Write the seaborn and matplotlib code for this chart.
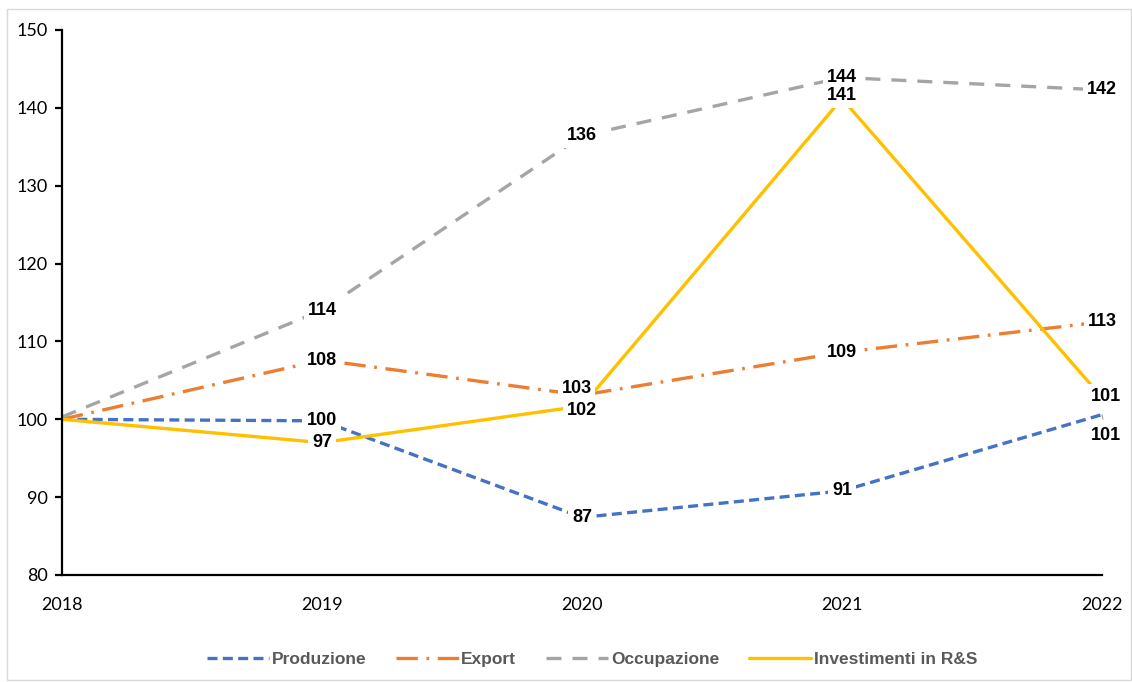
import matplotlib
matplotlib.use("Agg")
import matplotlib.pyplot as plt
import matplotlib.patches as mpatches
import seaborn as sns
import pandas as pd

years = [2018, 2019, 2020, 2021, 2022]
produzione = [100.0, 99.8, 87.4, 90.8, 100.6]
export = [100.0, 107.6, 103.1, 108.6, 112.5]
occupazione = [100.3, 114.0, 136.4, 143.9, 142.3]
investimenti = [100.0, 97.0, 101.7, 141.2, 102.8]

series_names = ["Produzione", "Export", "Occupazione", "Investimenti in R&S"]
label_texts = {
    "Produzione": [None, "100", "87", "91", "101"],
    "Export": [None, "108", "103", "109", "113"],
    "Occupazione": [None, "114", "136", "144", "142"],
    "Investimenti in R&S": [None, "97", "102", "141", "101"],
}
y_ticks = [80, 90, 100, 110, 120, 130, 140, 150]

colors = {"Produzione": "#4472C4", "Export": "#ED7D31",
          "Occupazione": "#A5A5A5", "Investimenti in R&S": "#FFC000"}
dashes = {"Produzione": (3.0, 1.6), "Export": (6.4, 2.6, 0.8, 2.6),
          "Occupazione": (4.5, 3.3), "Investimenti in R&S": ""}

df = pd.DataFrame({
    "Anno": years * 4,
    "Valore": produzione + export + occupazione + investimenti,
    "Serie": sum([[n] * len(years) for n in series_names], []),
})

sns.set_theme(style="white")
plt.rcParams["font.family"] = ["Lato", "DejaVu Sans"]

fig = plt.figure(figsize=(11.32, 6.82), dpi=100)
ax = fig.add_axes([62 / 1132, 1 - 575 / 682, (1102 - 62) / 1132, (575 - 30) / 682])

sns.lineplot(data=df, x="Anno", y="Valore", hue="Serie", style="Serie",
             hue_order=series_names, style_order=series_names,
             palette=colors, dashes=dashes, linewidth=2.4, ax=ax,
             legend=True)

ax.set_xlim(2018, 2022)
ax.set_ylim(80, 150)
ax.set_xticks(years)
ax.set_xticklabels([str(y) for y in years])
ax.set_yticks(y_ticks)
ax.set_xlabel("")
ax.set_ylabel("")
for s in ["top", "right"]:
    ax.spines[s].set_visible(False)
for s in ["left", "bottom"]:
    ax.spines[s].set_color("black")
    ax.spines[s].set_linewidth(1.6)
ax.tick_params(axis="y", which="both", left=True, length=5, width=1.6,
               color="black", labelsize=13, labelcolor="black", pad=5)
ax.tick_params(axis="x", which="both", bottom=False, labelsize=13,
               labelcolor="black", pad=10)

# data labels
offsets = {
    ("Export", 2): (-4, 5),
    ("Investimenti in R&S", 3): (0, 2),
    ("Investimenti in R&S", 4): (3, 1),
    ("Investimenti in R&S", 2): (0, -3),
}
vals = {"Produzione": produzione, "Export": export,
        "Occupazione": occupazione, "Investimenti in R&S": investimenti}
for name in series_names:
    for i, t in enumerate(label_texts[name]):
        if t is None:
            continue
        dx, dy = offsets.get((name, i), (0, 0))
        kw = {}
        if name == "Produzione" and i == 4:
            dx, dy = (3, -15)
            kw["arrowprops"] = dict(arrowstyle="-", color="#A5A5A5", lw=0.8,
                                    shrinkA=3, shrinkB=4)
        ax.annotate(t, (years[i], vals[name][i]), xytext=(dx, dy),
                    textcoords="offset points", ha="center", va="center",
                    fontsize=13, fontweight="bold", color="black",
                    family=["Liberation Sans", "DejaVu Sans"],
                    bbox=dict(boxstyle="square,pad=0.2", fc="white", ec="none"),
                    annotation_clip=False, zorder=5, **kw)

leg = ax.legend(loc="center", ncol=4, frameon=False,
                handlelength=3.6, columnspacing=1.7, handletextpad=0.15,
                prop={"family": ["Liberation Sans Narrow", "Liberation Sans"],
                      "weight": "bold", "size": 12.5})
for txt in leg.get_texts():
    txt.set_color("#595959")
leg.set_bbox_to_anchor((592 / 1132, 1 - 659 / 682), transform=fig.transFigure)

fig.patches.append(mpatches.Rectangle((7 / 1132, 2 / 682), 1124 / 1132, 671 / 682,
                                      transform=fig.transFigure, fill=False,
                                      ec="#D9D9D9", lw=1.0))

fig.savefig("out.png", dpi=100, facecolor="white")
